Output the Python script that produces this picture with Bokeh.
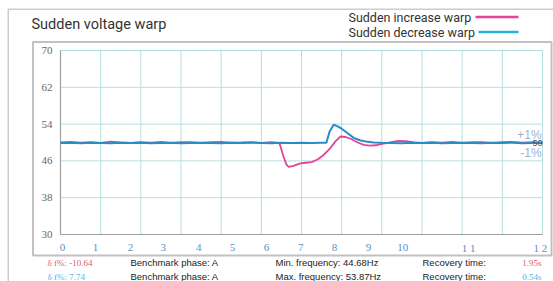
from bokeh.plotting import figure
from bokeh.models import Range1d, Label, BoxAnnotation
from bokeh.embed import file_html
from bokeh.resources import INLINE

# ---------------- data ----------------
title_text = "Sudden voltage warp"
series_names = ["Sudden increase warp", "Sudden decrease warp"]

t_inc = [0, 0.25, 0.5, 0.75, 1, 1.25, 1.5, 1.75, 2, 2.25, 2.5, 2.75, 3, 3.25, 3.5, 3.75,
         4, 4.25, 4.5, 4.75, 5, 5.25, 5.45, 5.55, 5.62, 5.68, 5.8, 5.95, 6.1, 6.25, 6.4,
         6.55, 6.7, 6.85, 6.97, 7.1, 7.25, 7.4, 7.55, 7.7, 7.85, 8.0, 8.2, 8.4, 8.6, 8.8,
         9.0, 9.25, 9.5, 9.75, 10, 10.25, 10.5, 10.75, 11, 11.25, 11.5, 11.75, 12]
f_inc = [50.0, 50.15, 49.95, 50.1, 49.9, 50.2, 50.0, 49.9, 50.1, 49.95, 50.15, 49.9, 50.05,
         50.1, 49.9, 50.05, 50.15, 49.95, 50.0, 50.1, 49.9, 50.05, 49.9, 47.0, 45.3, 44.68,
         44.9, 45.4, 45.6, 45.75, 46.3, 47.3, 48.6, 50.3, 51.3, 51.2, 50.7, 50.0, 49.5, 49.3,
         49.4, 49.7, 50.0, 50.35, 50.3, 50.0, 49.9, 50.1, 49.95, 50.15, 49.9, 50.05, 50.1,
         49.9, 50.05, 50.15, 49.95, 50.05, 50.0]

t_dec = [0, 0.25, 0.5, 0.75, 1, 1.25, 1.5, 1.75, 2, 2.25, 2.5, 2.75, 3, 3.25, 3.5, 3.75,
         4, 4.25, 4.5, 4.75, 5, 5.25, 5.5, 5.75, 6, 6.25, 6.5, 6.62, 6.7, 6.8, 6.9, 7.0,
         7.15, 7.3, 7.45, 7.6, 7.8, 8.0, 8.25, 8.5, 8.75, 9, 9.25, 9.5, 9.75, 10, 10.25,
         10.5, 10.75, 11, 11.25, 11.5, 11.75, 12]
f_dec = [49.9, 49.95, 49.85, 49.95, 49.9, 49.85, 49.95, 49.9, 49.95, 49.85, 49.9, 49.95,
         49.85, 49.9, 49.95, 49.9, 49.85, 49.95, 49.9, 49.95, 49.9, 49.85, 49.95, 49.9,
         49.95, 49.9, 49.95, 49.95, 52.4, 53.87, 53.5, 53.0, 52.0, 51.0, 50.5, 50.2, 50.0,
         49.95, 49.9, 49.85, 49.95, 49.9, 49.95, 49.85, 49.9, 49.95, 49.9, 49.85, 49.95,
         49.9, 49.95, 49.85, 49.9, 49.9]

y_ticks = [30, 38, 46, 54, 62, 70]
y_labels = ["30", "38", "46", "54", "62", "70"]
x_grid = list(range(13))
x_label_pos = [0.05, 0.87, 1.74, 2.56, 3.44, 4.28, 5.13, 5.98, 6.82, 7.67, 8.52, 10.16, 11.95]
x_labels = ["0", "1", "2", "3", "4", "5", "6", "7", "8", "9", "10", "1 1", "1 2"]

row1 = ["\u03b4 f%: -10.64", "Benchmark phase: A", "Min. frequency: 44.68Hz", "Recovery time:", "1.95s"]
row2 = ["\u03b4 f%:  7.74", "Benchmark phase: A", "Max. frequency: 53.87Hz", "Recovery time:", "0.54s"]
band_labels = ["+1%", "50", "-1%"]
band_values = [51.7, 50.0, 47.8]

X0, X1 = 0, 12
Y0, Y1 = 30, 70

# ---------------- styles / layout ----------------
PINK = "#e2449b"
BLUE = "#2a8cc6"
LEG_BLUE = "#2ab0dc"
PINK_TXT = "#e05a70"
CYAN_TXT = "#4fb6e2"
GRID = "#b3dede"
AXIS = "#a0a0a0"

W, H = 553, 281
L, R, T, B = 60, 542, 50, 234          # data area in canvas pixels
kx = (R - L) / (X1 - X0)
ky = (B - T) / (Y1 - Y0)

p = figure(width=W, height=H,
           x_range=Range1d(X0 - L / kx, X1 + (W - R) / kx),
           y_range=Range1d(Y0 - (H - B) / ky, Y1 + T / ky),
           output_backend="svg", toolbar_location=None,
           x_axis_location=None, y_axis_location=None,
           min_border=0)
p.outline_line_color = None
p.grid.visible = False
p.background_fill_color = "white"
p.border_fill_color = "white"


def sx(lx):
    return lx


def sy(ly):
    return H - ly


def box(l, r, t, b, **kw):
    p.add_layout(BoxAnnotation(left=sx(l), right=sx(r), top=sy(t), bottom=sy(b),
                               left_units="screen", right_units="screen",
                               top_units="screen", bottom_units="screen", **kw))


def label(lx, ly, text, **kw):
    p.add_layout(Label(x=sx(lx), y=sy(ly), x_units="screen", y_units="screen",
                       text=text, text_baseline="middle", **kw))


# frames
box(7.75, 700, 8.75, 500, fill_color=None, line_color="#555555", line_width=1.5)
box(32.5, 551, 41.5, 255, fill_color=None, line_color="#333333", line_width=2)

# grid
p.segment(x0=x_grid, y0=Y0, x1=x_grid, y1=Y1, line_color=GRID, line_width=1)
p.segment(x0=X0, y0=y_ticks, x1=X1, y1=y_ticks, line_color=GRID, line_width=1)
# axis lines
p.segment(x0=[X0, X0], y0=[Y0, Y0], x1=[X0, X1], y1=[Y1, Y0], line_color=AXIS, line_width=1.2)

# tick labels
p.text(x=X0, y=y_ticks, text=y_labels, x_offset=-8, text_align="right",
       text_baseline="middle", text_font="Liberation Serif", text_font_size="11px",
       text_color="#666666")
p.text(x=x_label_pos, y=Y0, text=x_labels, y_offset=13, text_align="center",
       text_baseline="middle", text_font="Liberation Serif", text_font_size="11px",
       text_color="#5b8fc7")

# series
p.line(t_inc, f_inc, line_color=PINK, line_width=1.8)
p.line(t_dec, f_dec, line_color=BLUE, line_width=2)

# band labels
for txt, v in zip(band_labels, band_values):
    if txt == "50":
        p.add_layout(Label(x=X1, y=v, text=txt, text_font="Liberation Sans", text_font_size="9px",
                           text_color="#555555", text_baseline="middle", text_align="right"))
    else:
        p.add_layout(Label(x=X1 - 0.02, y=v, text=txt, text_font="Liberation Sans",
                           text_font_size="12px", text_color="#9ab3d6",
                           text_baseline="middle", text_align="right"))

# title
label(31, 24, title_text, text_font="Roboto", text_font_size="14.5px", text_color="#333333")

# legend
leg_line_start = [475, 478]
for i, (name, col) in enumerate(zip(series_names, [PINK, LEG_BLUE])):
    ly = 16.5 + 15 * i
    label(348, ly, name, text_font="Roboto", text_font_size="12.5px", text_color="#333333",
          text_align="left")
    box(leg_line_start[i], 518, ly - 1.2, ly + 1.2, fill_color=col, fill_alpha=1, line_color=None)

# bottom info rows
col_x = [47, 130, 275, 422]
for row, ly, colr in [(row1, 262, PINK_TXT), (row2, 276, CYAN_TXT)]:
    label(col_x[0], ly, row[0], text_font="Liberation Serif", text_font_size="9px",
          text_color=colr)
    for j in (1, 2, 3):
        label(col_x[j], ly, row[j], text_font="Liberation Sans", text_font_size="9.5px",
              text_color="#222222")
    label(541, ly, row[4], text_font="Liberation Serif", text_font_size="9px",
          text_color=colr, text_align="right")

open("out.html", "w").write(file_html(p, INLINE))
